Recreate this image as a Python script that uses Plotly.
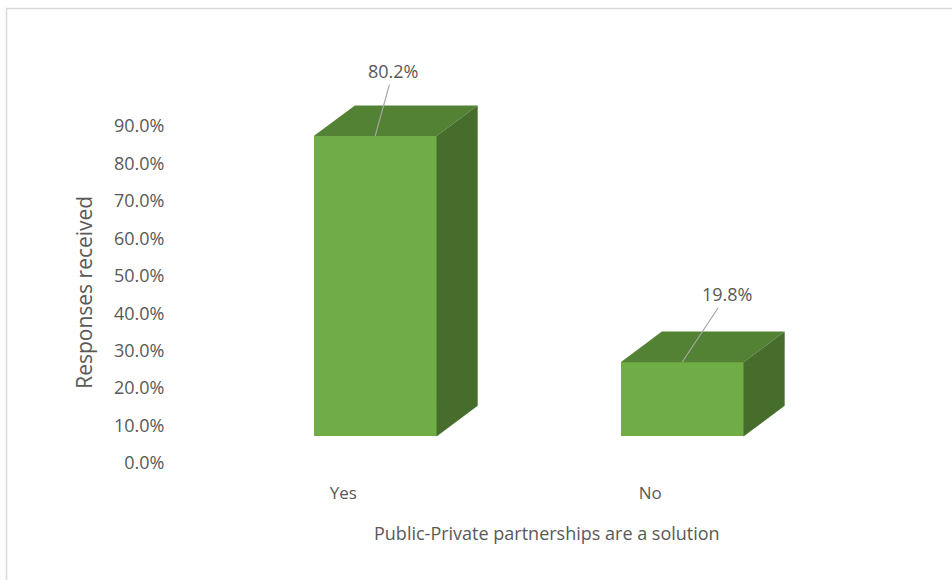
import plotly.graph_objects as go

# Survey result: share of responses per answer
categories = ["Yes", "No"]
values = [80.2, 19.8]
y_ticks = [0, 10, 20, 30, 40, 50, 60, 70, 80, 90]
y_tick_labels = [f"{t:.1f}%" for t in y_ticks]
x_title = "Public-Private partnerships are a solution"
y_title = "Responses received"

# 3D column styling (in axis units)
FLOOR = 7.1          # front face sits above the floor line
BAR_SHIFT = 0.104    # front face centre offset from the category tick
BAR_W = 0.40         # front face width
DEPTH_X = 0.134      # receding depth, horizontal
DEPTH_Y = 8.2        # receding depth, vertical

FRONT = "#70AD47"
TOP = "#548235"
SIDE = "#476D2C"
TEXT = "#595959"

W, H = 952, 580
ML, MR, MT, MB = 175, 47, 60, 116.7
PW, PH = W - ML - MR, H - MT - MB

positions = list(range(len(categories)))

fig = go.Figure()

# front faces
fig.add_trace(go.Bar(
    x=[p + BAR_SHIFT for p in positions], y=values, base=[FLOOR] * len(values),
    width=BAR_W, marker=dict(color=FRONT, line=dict(width=0)),
    hoverinfo="skip", showlegend=False,
))

for p, v in zip(positions, values):
    xl = p + BAR_SHIFT - BAR_W / 2
    xr = p + BAR_SHIFT + BAR_W / 2
    top = FLOOR + v
    # top face
    fig.add_trace(go.Scatter(
        x=[xl, xr, xr + DEPTH_X, xl + DEPTH_X, xl],
        y=[top, top, top + DEPTH_Y, top + DEPTH_Y, top],
        fill="toself", fillcolor=TOP, mode="lines", line=dict(width=0),
        hoverinfo="skip", showlegend=False,
    ))
    # side face
    fig.add_trace(go.Scatter(
        x=[xr, xr, xr + DEPTH_X, xr + DEPTH_X, xr],
        y=[FLOOR, top, top + DEPTH_Y, FLOOR + DEPTH_Y, FLOOR],
        fill="toself", fillcolor=SIDE, mode="lines", line=dict(width=0),
        hoverinfo="skip", showlegend=False,
    ))

# data labels with leader lines
label_offsets = [(18, -65), (45, -68)]
for p, v, (ax, ay) in zip(positions, values, label_offsets):
    fig.add_annotation(
        x=p + BAR_SHIFT, y=FLOOR + v, text=f"{v:.1f}%",
        showarrow=True, arrowhead=0, arrowwidth=1.2, arrowcolor="#A6A6A6",
        ax=ax, ay=ay, standoff=0,
        font=dict(family="Open Sans", size=18, color=TEXT),
    )


def px_x(px):
    return (px - ML) / PW


def px_y(py):
    return (H - MB - py) / PH


# axis titles
fig.add_annotation(
    x=px_x(547), y=px_y(533), xref="paper", yref="paper", text=x_title,
    showarrow=False, xanchor="center", yanchor="middle",
    font=dict(family="Open Sans", size=18, color=TEXT),
)
fig.add_annotation(
    x=px_x(84), y=px_y(293), xref="paper", yref="paper", text=y_title,
    showarrow=False, xanchor="center", yanchor="middle", textangle=-90,
    font=dict(family="Open Sans", size=21, color=TEXT),
)

# chart frame
fig.add_shape(
    type="rect", xref="paper", yref="paper",
    x0=px_x(6.5), x1=px_x(960), y0=px_y(600), y1=px_y(8.5),
    line=dict(color="#D9D9D9", width=1.5), fillcolor="rgba(0,0,0,0)", layer="below",
)

fig.update_layout(
    width=W, height=H,
    margin=dict(l=ML, r=MR, t=MT, b=MB),
    paper_bgcolor="white", plot_bgcolor="white",
    font=dict(family="Open Sans", color=TEXT),
    bargap=0,
    xaxis=dict(
        range=[-0.548, 1.83], tickvals=positions, ticktext=categories,
        showgrid=False, zeroline=False, showline=False,
        ticks="outside", ticklen=15, tickcolor="rgba(0,0,0,0)",
        tickfont=dict(size=17, color=TEXT),
    ),
    yaxis=dict(
        range=[0, 107.63], tickmode="array", tickvals=y_ticks, ticktext=y_tick_labels,
        showgrid=False, zeroline=False, showline=False,
        ticks="outside", ticklen=6, tickcolor="rgba(0,0,0,0)",
        tickfont=dict(size=18, color=TEXT),
    ),
)

fig.write_html("out.html")
